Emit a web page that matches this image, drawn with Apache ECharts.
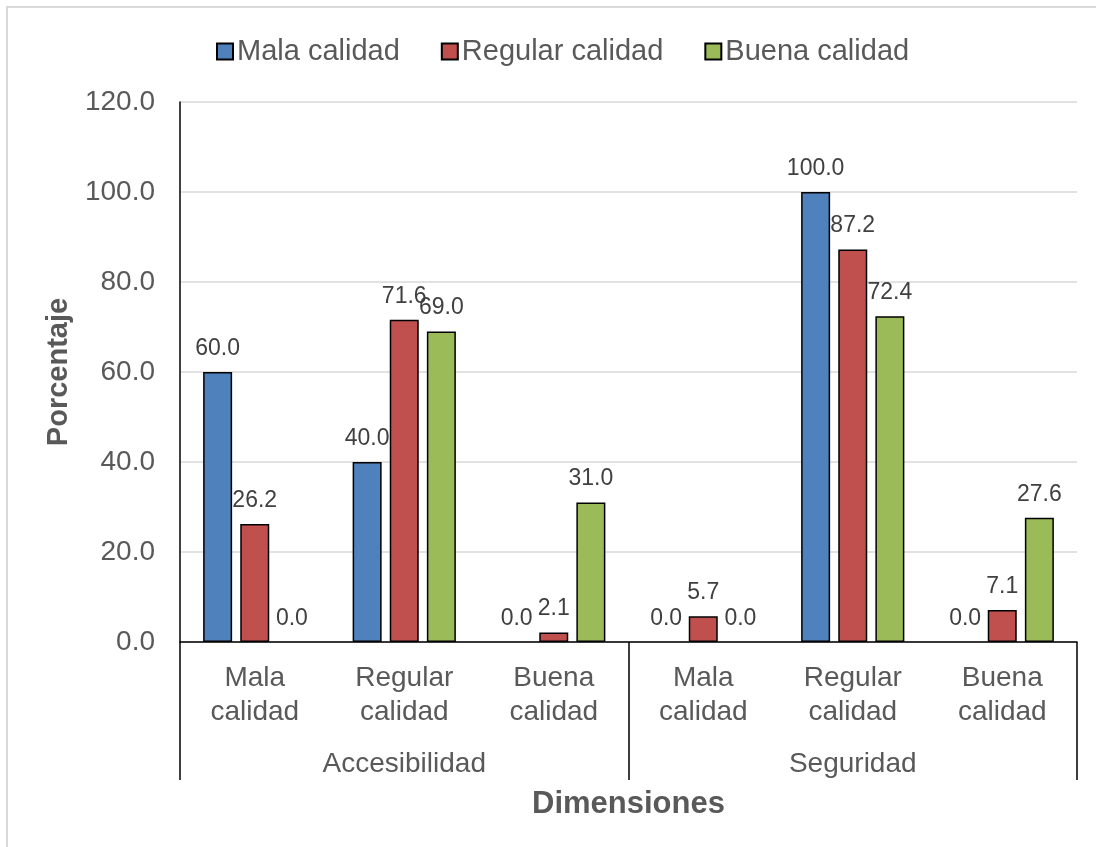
<!DOCTYPE html>
<html>
<head>
<meta charset="utf-8">
<script src="https://cdn.jsdelivr.net/npm/echarts@6/dist/echarts.min.js"></script>
<style>
  html, body { margin: 0; padding: 0; background: #ffffff; }
  #chart { width: 1096px; height: 847px; }
</style>
</head>
<body>
<div id="chart"></div>
<script>
// Quality levels within each dimension (inner axis) and the dimensions (outer axis)
var categories = ['Mala\ncalidad', 'Regular\ncalidad', 'Buena\ncalidad',
                  'Mala\ncalidad', 'Regular\ncalidad', 'Buena\ncalidad'];
var groups = ['Accesibilidad', 'Seguridad'];

// Percentages per series
var malaCalidad    = [60.0, 40.0, 0.0, 0.0, 100.0, 0.0];
var regularCalidad = [26.2, 71.6, 2.1, 5.7, 87.2, 7.1];
var buenaCalidad   = [0.0, 69.0, 31.0, 0.0, 72.4, 27.6];

var seriesNames = ['Mala calidad', 'Regular calidad', 'Buena calidad'];
var seriesColors = ['#4f81bd', '#c0504d', '#9bbb59'];
var seriesData = [malaCalidad, regularCalidad, buenaCalidad];

var FONT = "'Liberation Sans', Arial, sans-serif";
var TEXT = '#595959';

var chart = echarts.init(document.getElementById('chart'), null, { renderer: 'canvas' });

var series = seriesNames.map(function (name, i) {
  return {
    name: name,
    type: 'bar',
    xAxisIndex: 0,
    yAxisIndex: 0,
    // empty bars get no outline so nothing is drawn on the baseline
    data: seriesData[i].map(function (v) {
      return v === 0 ? { value: v, itemStyle: { borderWidth: 0 } } : v;
    }),
    barWidth: 29,
    barGap: '28%',
    itemStyle: { color: seriesColors[i], borderColor: '#000000', borderWidth: 1.5 },
    label: {
      show: true,
      position: 'top',
      distance: 12,
      fontFamily: FONT,
      fontSize: 23,
      color: '#404040',
      formatter: function (p) { return Number(p.value).toFixed(1); }
    }
  };
});

chart.setOption({
  animation: false,
  backgroundColor: '#ffffff',
  textStyle: { fontFamily: FONT },
  graphic: [{
    type: 'rect',
    shape: { x: 7, y: 7, width: 1200, height: 1000 },
    style: { fill: 'none', stroke: '#d9d9d9', lineWidth: 2 },
    silent: true,
    z: -10
  }],
  legend: {
    left: 211,
    top: 32,
    itemWidth: 16,
    itemHeight: 16,
    itemGap: 41,
    icon: 'rect',
    itemStyle: { borderColor: '#000000', borderWidth: 2 },
    textStyle: { fontFamily: FONT, fontSize: 29, color: TEXT, padding: [0, 0, 0, -1] },
    data: seriesNames
  },
  grid: { left: 180, right: 19, top: 102, bottom: 205, containLabel: false },
  xAxis: [{
    type: 'category',
    data: categories,
    position: 'bottom',
    axisLine: { show: true, lineStyle: { color: '#000000', width: 1.5 } },
    axisTick: { show: false },
    axisLabel: {
      interval: 0,
      margin: 19,
      fontFamily: FONT,
      fontSize: 28,
      lineHeight: 34,
      color: TEXT,
      align: 'center'
    },
    splitLine: { show: false }
  }, {
    type: 'category',
    data: groups,
    position: 'bottom',
    axisLine: { show: false },
    axisTick: { show: true, inside: false, length: 138, alignWithLabel: false,
                lineStyle: { color: '#000000', width: 1.5 } },
    axisLabel: { interval: 0, margin: 108, fontFamily: FONT, fontSize: 28, color: TEXT },
    splitLine: { show: false },
    name: 'Dimensiones',
    nameLocation: 'middle',
    nameGap: 147,
    nameTextStyle: { fontFamily: FONT, fontSize: 31, fontWeight: 'bold', color: TEXT }
  }],
  yAxis: {
    type: 'value',
    min: 0,
    max: 120,
    interval: 20,
    name: 'Porcentaje',
    nameLocation: 'middle',
    nameGap: 107,
    nameRotate: 90,
    nameTextStyle: { fontFamily: FONT, fontSize: 29, fontWeight: 'bold', color: TEXT },
    axisLine: { show: true, lineStyle: { color: '#000000', width: 1.5 } },
    axisTick: { show: false },
    axisLabel: {
      margin: 25,
      fontFamily: FONT,
      fontSize: 28,
      color: TEXT,
      formatter: function (v) { return v.toFixed(1); }
    },
    splitLine: { show: true, lineStyle: { color: '#d9d9d9', width: 1.5 } }
  },
  series: series
});
</script>
</body>
</html>
